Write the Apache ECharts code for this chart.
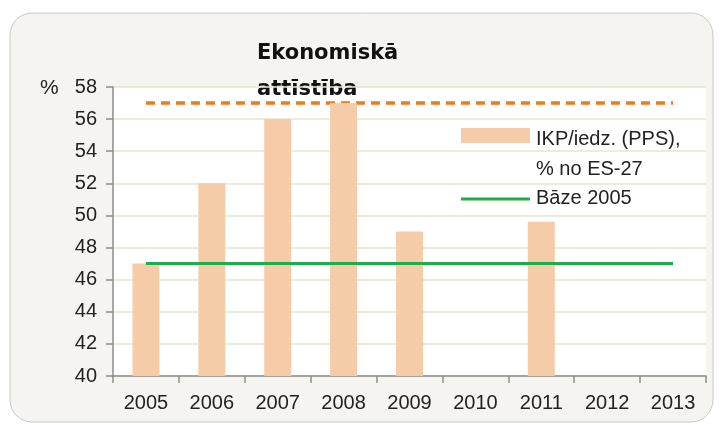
<!DOCTYPE html>
<html>
<head>
<meta charset="utf-8">
<script src="https://cdn.jsdelivr.net/npm/echarts@6/dist/echarts.min.js"></script>
<style>
  html, body { margin: 0; padding: 0; background: #fff; }
  #chart { width: 720px; height: 425px; }
</style>
</head>
<body>
<div id="chart"></div>
<script>
// dati
var years = ['2005', '2006', '2007', '2008', '2009', '2010', '2011', '2012', '2013'];
var ikpValues = [47, 52, 56, 57, 49, null, 49.6, null, null];
var baseValues = [47, 47, 47, 47, 47, 47, 47, 47, 47];
var topValues = [57, 57, 57, 57, 57, 57, 57, 57, 57];
var yTicks = { min: 40, max: 58, step: 2 };

var ikpName = 'IKP/iedz. (PPS),\n% no ES-27';
var baseName = 'Bāze 2005';
var font = '"Liberation Sans", Arial, sans-serif';
var barColor = '#f6cba8';
var baseColor = '#1ead4b';

var myChart = echarts.init(document.getElementById('chart'));

var option = {
    animation: false,
    backgroundColor: '#fff',
    graphic: [{
        type: 'rect',
        z: -10,
        shape: { x: 10, y: 13, width: 703, height: 409, r: 22 },
        style: { fill: '#f5f4f0', stroke: '#c8c8c8', lineWidth: 1 }
    }, {
        type: 'rect',
        z: -9,
        shape: { x: 113, y: 87, width: 593, height: 289 },
        style: { fill: '#fff' }
    }, {
        type: 'text',
        left: 257,
        top: 36,
        style: {
            text: 'Ekonomiskā\nattīstība',
            font: 'bold 21px "DejaVu Sans", sans-serif',
            lineHeight: 36,
            fill: '#111'
        }
    }, {
        type: 'text',
        left: 40,
        top: 78,
        style: {
            text: '%',
            font: '21px ' + font,
            fill: '#222'
        }
    },
    // legenda
    {
        type: 'rect',
        shape: { x: 461, y: 128, width: 69, height: 15 },
        style: { fill: barColor }
    }, {
        type: 'text',
        left: 536,
        top: 124,
        style: {
            text: ikpName,
            font: '20px ' + font,
            lineHeight: 30,
            fill: '#222'
        }
    }, {
        type: 'line',
        shape: { x1: 461, y1: 199, x2: 530, y2: 199 },
        style: { stroke: baseColor, lineWidth: 3 }
    }, {
        type: 'text',
        left: 536,
        top: 188,
        style: {
            text: baseName,
            font: '20px ' + font,
            fill: '#222'
        }
    }],
    grid: {
        left: 113,
        right: 14,
        top: 87,
        bottom: 49
    },
    xAxis: {
        type: 'category',
        data: years,
        boundaryGap: true,
        axisLine: { lineStyle: { color: '#8c8c8c', width: 1.5 } },
        axisTick: { show: true, length: 7, lineStyle: { color: '#8c8c8c', width: 1.5 } },
        axisLabel: {
            margin: 17,
            fontFamily: font,
            fontSize: 20,
            color: '#222'
        }
    },
    yAxis: {
        type: 'value',
        min: yTicks.min,
        max: yTicks.max,
        interval: yTicks.step,
        axisLine: { show: true, lineStyle: { color: '#8c8c8c', width: 1.5 } },
        axisTick: { show: true, length: 7, lineStyle: { color: '#8c8c8c', width: 1.5 } },
        splitLine: { show: true, lineStyle: { color: '#e6e4d2', width: 1.5 } },
        axisLabel: {
            margin: 16,
            fontFamily: font,
            fontSize: 20,
            color: '#222'
        }
    },
    series: [{
        name: ikpName,
        type: 'bar',
        data: ikpValues,
        barWidth: 27,
        itemStyle: { color: barColor }
    }, {
        name: baseName,
        type: 'line',
        data: baseValues,
        symbol: 'none',
        lineStyle: { color: baseColor, width: 3 }
    }, {
        name: 'top',
        type: 'line',
        data: topValues,
        symbol: 'none',
        z: 1,
        lineStyle: { color: '#ee7a1c', width: 3.5, type: [9, 6] }
    }]
};

myChart.setOption(option);
</script>
</body>
</html>
